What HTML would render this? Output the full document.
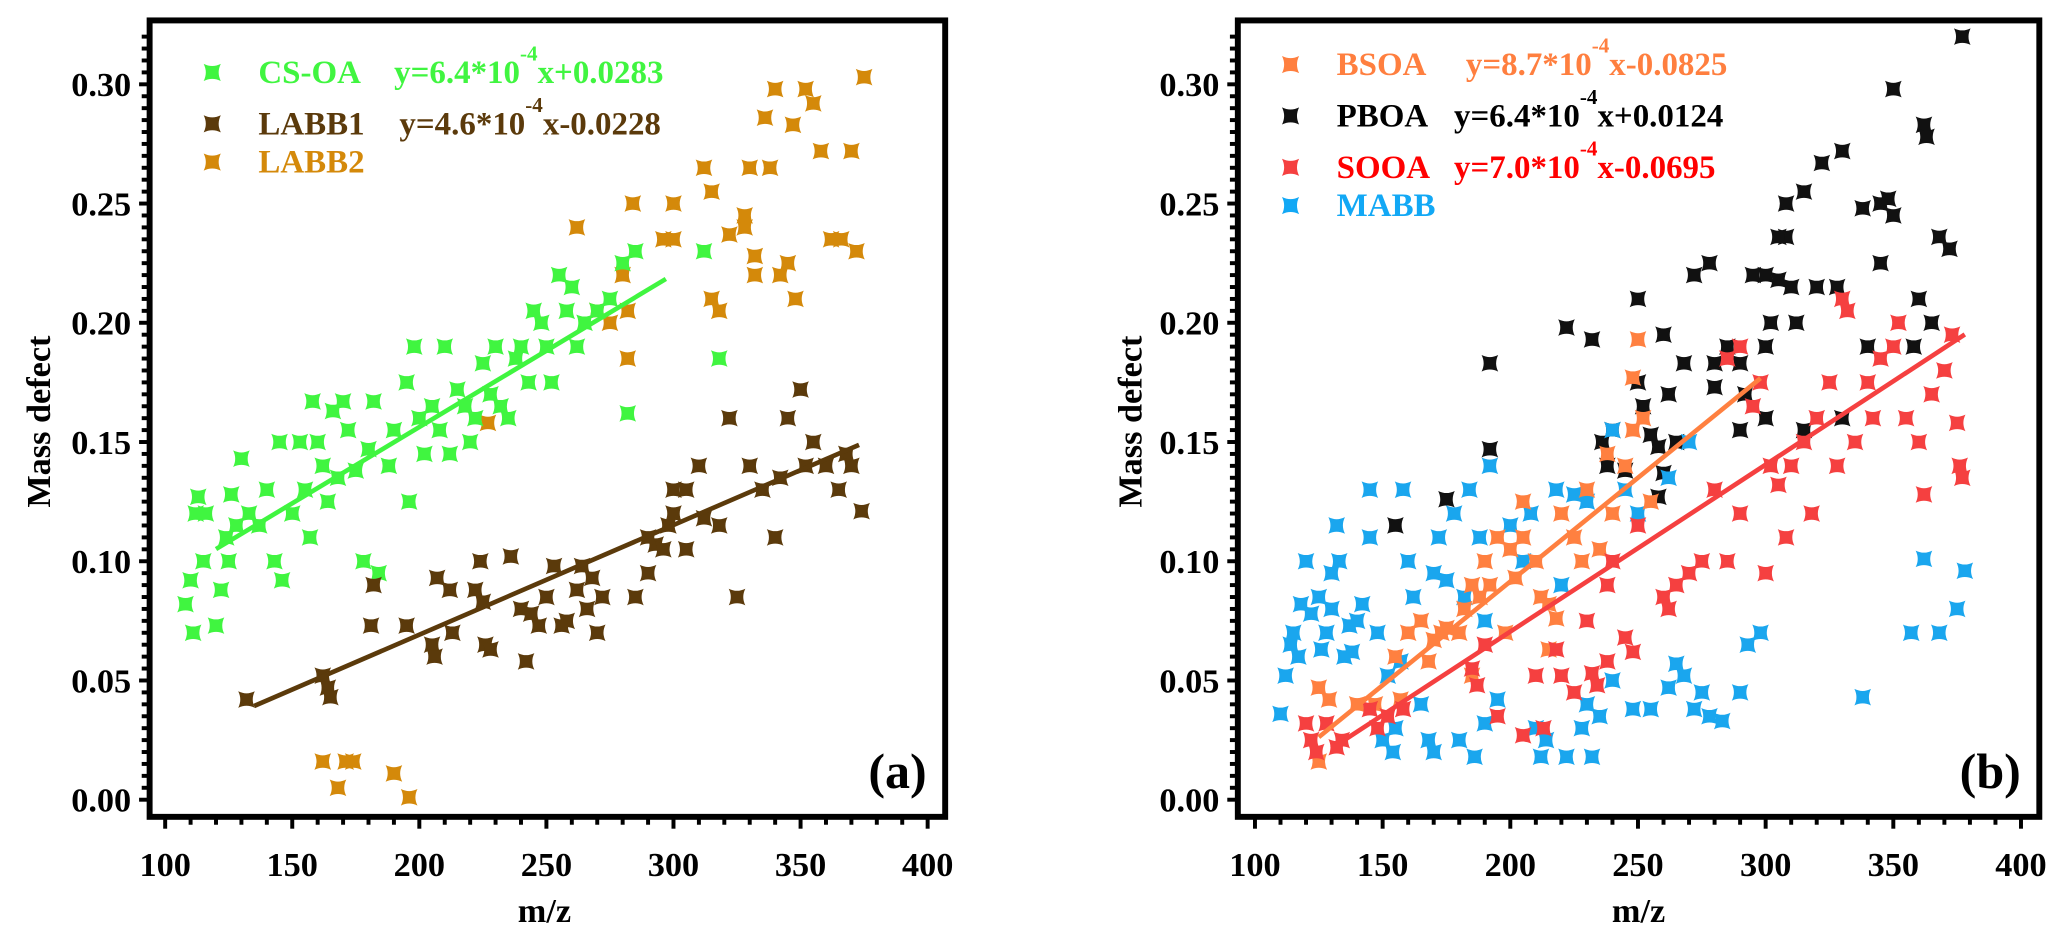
<!DOCTYPE html>
<html>
<head>
<meta charset="utf-8">
<style>
html,body{margin:0;padding:0;background:#fff;}
svg{display:block;}
text{font-family:"Liberation Serif","DejaVu Serif",serif;font-weight:bold;}
</style>
</head>
<body>
<svg id="chart" xmlns="http://www.w3.org/2000/svg" width="2067" height="942" viewBox="0 0 1568 715" preserveAspectRatio="none">
  <rect x="0" y="0" width="1568" height="715" fill="#fff"/>
  <g id="panelA"></g>
  <g id="panelB"></g>
</svg>
<script>
// ---------- data: panel (a) ----------
const csoaX = [108,110,111,112,113,115,116,120,122,124,125,126,128,130,133,137,140,143,145,146,150,153,155,157,158,160,162,164,166,168,170,172,175,178,180,182,184,188,190,195,196,198,200,202,205,208,210,212,215,218,220,222,225,228,230,232,235,238,240,243,245,248,250,252,255,258,260,262,265,270,275,280,282,285,312,318];
const csoaY = [0.082,0.092,0.070,0.120,0.127,0.100,0.120,0.073,0.088,0.110,0.100,0.128,0.115,0.143,0.120,0.115,0.130,0.100,0.150,0.092,0.120,0.150,0.130,0.110,0.167,0.150,0.140,0.125,0.163,0.135,0.167,0.155,0.138,0.100,0.147,0.167,0.095,0.140,0.155,0.175,0.125,0.190,0.160,0.145,0.165,0.155,0.190,0.145,0.172,0.165,0.150,0.160,0.183,0.170,0.190,0.165,0.160,0.185,0.190,0.175,0.205,0.200,0.190,0.175,0.220,0.205,0.215,0.190,0.200,0.205,0.210,0.225,0.162,0.230,0.230,0.185];
const labb1X = [132,162,164,165,182,181,195,205,206,207,212,213,222,224,225,226,228,236,240,242,244,247,250,253,256,258,262,264,266,268,270,272,285,290,293,296,298,300,305,310,312,318,322,325,330,335,340,342,345,350,352,355,360,365,368,370,374,305,290,300];
const labb1Y = [0.042,0.052,0.047,0.043,0.090,0.073,0.073,0.065,0.060,0.093,0.088,0.070,0.088,0.100,0.083,0.065,0.063,0.102,0.080,0.058,0.078,0.073,0.085,0.098,0.073,0.075,0.088,0.098,0.080,0.093,0.070,0.085,0.085,0.095,0.107,0.105,0.115,0.120,0.130,0.140,0.118,0.115,0.160,0.085,0.140,0.130,0.110,0.135,0.160,0.172,0.140,0.150,0.140,0.130,0.145,0.140,0.121,0.105,0.110,0.130];
const labb2X = [162,168,171,174,190,196,227,262,270,275,280,282,284,296,300,300,312,315,315,318,322,328,330,332,332,336,338,340,342,345,347,348,352,355,358,362,366,370,372,375,282,328];
const labb2Y = [0.016,0.005,0.016,0.016,0.011,0.001,0.158,0.240,0.205,0.200,0.220,0.205,0.250,0.235,0.250,0.235,0.265,0.255,0.210,0.205,0.237,0.240,0.265,0.220,0.228,0.286,0.265,0.298,0.220,0.225,0.283,0.210,0.298,0.292,0.272,0.235,0.235,0.272,0.230,0.303,0.185,0.245];
const csoaFitX = [120,297];
const labb1FitX = [135,373];
// ---------- data: panel (b) ----------
const pboaX = [377,350,362,363,330,322,345,348,308,315,308,305,368,372,338,350,320,328,345,305,310,300,295,278,272,250,222,232,192,285,340,330,302,312,260,262,268,280,290,250,252,255,240,236,238,245,258,260,280,290,292,300,192,175,155,265,258,300,315,360,365,358];
const pboaY = [0.320,0.298,0.283,0.278,0.272,0.267,0.250,0.252,0.250,0.255,0.236,0.236,0.236,0.231,0.248,0.245,0.215,0.215,0.225,0.218,0.215,0.220,0.220,0.225,0.220,0.210,0.198,0.193,0.183,0.190,0.190,0.160,0.200,0.200,0.195,0.170,0.183,0.183,0.183,0.175,0.165,0.153,0.155,0.150,0.140,0.138,0.148,0.137,0.173,0.155,0.170,0.190,0.147,0.126,0.115,0.150,0.127,0.160,0.155,0.210,0.200,0.190];
const bsoaX = [125,125,129,140,147,155,157,160,165,168,170,173,175,180,182,185,188,190,192,198,200,202,205,210,212,215,218,220,225,228,230,235,238,240,245,248,250,252,255,215,185,195,205,248];
const bsoaY = [0.016,0.047,0.042,0.040,0.040,0.060,0.042,0.070,0.075,0.058,0.067,0.070,0.072,0.070,0.080,0.090,0.085,0.100,0.090,0.070,0.105,0.093,0.110,0.100,0.085,0.082,0.076,0.120,0.110,0.100,0.130,0.105,0.145,0.120,0.140,0.155,0.193,0.160,0.125,0.063,0.052,0.110,0.125,0.177];
const sooaX = [120,122,124,128,132,134,145,148,152,158,185,187,190,195,205,210,213,218,220,225,230,232,234,238,238,245,248,260,262,270,275,285,290,300,302,305,308,310,315,320,318,325,328,330,332,335,340,342,345,350,352,355,360,362,365,370,373,375,377,376,298,290,295,285,240,250,265,280];
const sooaY = [0.032,0.025,0.020,0.032,0.022,0.025,0.038,0.030,0.035,0.038,0.055,0.048,0.065,0.035,0.027,0.052,0.030,0.063,0.052,0.045,0.075,0.053,0.048,0.058,0.090,0.068,0.062,0.085,0.080,0.095,0.100,0.100,0.120,0.095,0.140,0.132,0.110,0.140,0.150,0.160,0.120,0.175,0.140,0.210,0.205,0.150,0.175,0.160,0.185,0.190,0.200,0.160,0.150,0.128,0.170,0.180,0.195,0.158,0.135,0.140,0.175,0.190,0.165,0.185,0.100,0.115,0.090,0.130];
const mabbX = [110,112,114,115,117,118,120,122,125,126,128,130,130,132,133,135,137,138,140,142,145,145,148,150,152,154,155,157,158,160,162,165,168,170,170,172,175,178,180,182,184,186,188,190,190,192,195,200,205,208,210,212,214,218,220,222,228,230,232,235,240,240,248,255,262,265,268,272,275,278,283,290,293,298,338,357,362,368,375,378,230,225,245,250,262,270];
const mabbY = [0.036,0.052,0.065,0.070,0.060,0.082,0.100,0.078,0.085,0.063,0.070,0.080,0.095,0.115,0.100,0.060,0.073,0.062,0.075,0.082,0.110,0.130,0.070,0.025,0.052,0.020,0.030,0.058,0.130,0.100,0.085,0.040,0.025,0.020,0.095,0.110,0.092,0.120,0.025,0.085,0.130,0.018,0.110,0.075,0.032,0.140,0.042,0.115,0.100,0.120,0.030,0.018,0.025,0.130,0.090,0.018,0.030,0.040,0.018,0.035,0.050,0.155,0.038,0.038,0.047,0.057,0.052,0.038,0.045,0.035,0.033,0.045,0.065,0.070,0.043,0.070,0.101,0.070,0.080,0.096,0.125,0.128,0.130,0.120,0.135,0.150];
const bsoaFitX = [125,298];
const sooaFitX = [130,378];
// ---------- tick labels ----------
const xTickValues = [100,150,200,250,300,350,400];
const yTickValues = [0.00,0.05,0.10,0.15,0.20,0.25,0.30];
const yTickLabels = ["0.00","0.05","0.10","0.15","0.20","0.25","0.30"];
// fit coefficients
const csoaFit = [6.4e-4, 0.0283];
const labb1Fit = [4.6e-4, -0.0228];
const bsoaFit = [8.7e-4, -0.0825];
const sooaFit = [7.0e-4, -0.0695];

const NS = "http://www.w3.org/2000/svg";
function mk(tag, attrs, parent){
  const e = document.createElementNS(NS, tag);
  for (const k in attrs) e.setAttribute(k, attrs[k]);
  parent.appendChild(e);
  return e;
}
function starPath(cx, cy, s){
  const c = s*0.5;
  return `M${cx-s},${cy-s} Q${cx},${cy-c} ${cx+s},${cy-s} Q${cx+c},${cy} ${cx+s},${cy+s} Q${cx},${cy+c} ${cx-s},${cy+s} Q${cx-c},${cy} ${cx-s},${cy-s} Z`;
}
function yScale(v){ return 607 - v*1810; }

function buildPanel(g, cfg){
  const xS = m => cfg.x0 + (m-100)*cfg.k;
  const L = cfg.left, R = cfg.right, T = 15.5, B = 620;
  const fr = mk('rect',{x:L,y:T,width:R-L,height:B-T,fill:'none',stroke:'#000','stroke-width':4.5}, g);
  
  
  for (let i=0;i<=64;i++){
    const v = i*0.005;
    const y = yScale(v);
    if (y < T+3) break;
    const major = (i%10===0);
    const t = mk('line',{x1:L-(major?8:6),x2:L,y1:y,y2:y,stroke:'#000','stroke-width':3}, g);
    
    
  }
  yTickValues.forEach((v,i)=>{
    const t = mk('text',{x:L-14,y:yScale(v)+9,'text-anchor':'end','font-size':26,fill:'#000'}, g);
    t.textContent = yTickLabels[i];
    
    
  });
  for (let m=100; m<=400; m+=10){
    const x = xS(m);
    const major = (m%50===0);
    const t = mk('line',{x1:x,x2:x,y1:B,y2:B+(major?9:6),stroke:'#000','stroke-width':3}, g);
    
    
  }
  xTickValues.forEach(v=>{
    const t = mk('text',{x:xS(v),y:665,'text-anchor':'middle','font-size':26,fill:'#000'}, g);
    t.textContent = String(v);
    
    
  });
  const xt = mk('text',{x:cfg.xTitleX,y:700,'text-anchor':'middle','font-size':26,fill:'#000'}, g);
  xt.textContent = 'm/z';
  
  
  const yt = mk('text',{x:0,y:0,'text-anchor':'middle','font-size':26,fill:'#000',transform:`translate(${cfg.yTitleX},320) rotate(-90)`}, g);
  yt.textContent = 'Mass defect';
  
  
  const pl = mk('text',{x:R-14,y:598,'text-anchor':'end','font-size':38,fill:'#000'}, g);
  pl.textContent = cfg.label;
  
  
  cfg.series.forEach(s=>{
    const sg = mk('g',{}, g);
    
    
    s.xs.forEach((m,i)=>{
      const p = mk('path',{d:starPath(xS(m), yScale(s.ys[i]), 6.3), fill:s.color}, sg);
      
      
    });
  });
  cfg.fits.forEach(f=>{
    const [a,b] = f.coef;
    const ln = mk('line',{x1:xS(f.xs[0]),y1:yScale(a*f.xs[0]+b),x2:xS(f.xs[1]),y2:yScale(a*f.xs[1]+b),stroke:f.color,'stroke-width':3.5}, g);
    
    
  });
  cfg.legend.forEach(e=>{
    const lg = mk('g',{}, g);
    
    
    const mkr = mk('path',{d:starPath(cfg.legMarkX, e.y-8, 6.5), fill:e.mcolor}, lg);
    
    
    const nm = mk('text',{x:cfg.legTextX,y:e.y,'font-size':25,fill:e.color}, lg);
    nm.textContent = e.label;
    
    
    if (e.eq){
      const eq = mk('text',{x:e.eqX,y:e.y,'font-size':25,fill:e.color}, lg);
      
      
      const t1 = mk('tspan',{}, eq);
      t1.textContent = e.eq[0];
      const t2 = mk('tspan',{dy:-17,'font-size':16}, eq);
      t2.textContent = '-4';
      const t3 = mk('tspan',{dy:17}, eq);
      t3.textContent = e.eq[1];
    }
  });
}

buildPanel(document.getElementById('panelA'), {
  x0:125.3, k:1.928, left:113.5, right:717, xTitleX:413, yTitleX:38, label:'(a)',
  legMarkX:161, legTextX:196,
  series:[
    {name:'labb2', xs:labb2X, ys:labb2Y, color:'#d4890a'},
    {name:'csoa', xs:csoaX, ys:csoaY, color:'#40f540'},
    {name:'labb1', xs:labb1X, ys:labb1Y, color:'#5b3a0b'}
  ],
  fits:[
    {name:'csoa', xs:csoaFitX, coef:csoaFit, color:'#40f540'},
    {name:'labb1', xs:labb1FitX, coef:labb1Fit, color:'#5b3a0b'}
  ],
  legend:[
    {label:'CS-OA', y:63, color:'#40f540', mcolor:'#40f540', eq:['y=6.4*10','x+0.0283'], eqX:299},
    {label:'LABB1', y:102, color:'#5b3a0b', mcolor:'#5b3a0b', eq:['y=4.6*10','x-0.0228'], eqX:303},
    {label:'LABB2', y:131, color:'#d4890a', mcolor:'#d4890a'}
  ]
});

buildPanel(document.getElementById('panelB'), {
  x0:952, k:1.937, left:939, right:1547, xTitleX:1243, yTitleX:866, label:'(b)',
  legMarkX:979, legTextX:1014,
  series:[
    {name:'pboa', xs:pboaX, ys:pboaY, color:'#111'},
    {name:'mabb', xs:mabbX, ys:mabbY, color:'#1aa6ee'},
    {name:'bsoa', xs:bsoaX, ys:bsoaY, color:'#ff8040'},
    {name:'sooa', xs:sooaX, ys:sooaY, color:'#f54040'}
  ],
  fits:[
    {name:'bsoa', xs:bsoaFitX, coef:bsoaFit, color:'#ff8040'},
    {name:'sooa', xs:sooaFitX, coef:sooaFit, color:'#f54040'}
  ],
  legend:[
    {label:'BSOA', y:57, color:'#ff7f3f', mcolor:'#ff7f3f', eq:['y=8.7*10','x-0.0825'], eqX:1112},
    {label:'PBOA', y:96, color:'#000', mcolor:'#111', eq:['y=6.4*10','x+0.0124'], eqX:1103},
    {label:'SOOA', y:135, color:'#ff0000', mcolor:'#f54040', eq:['y=7.0*10','x-0.0695'], eqX:1103},
    {label:'MABB', y:164, color:'#12a8f5', mcolor:'#12a8f5'}
  ]
});
</script>
</body>
</html>
